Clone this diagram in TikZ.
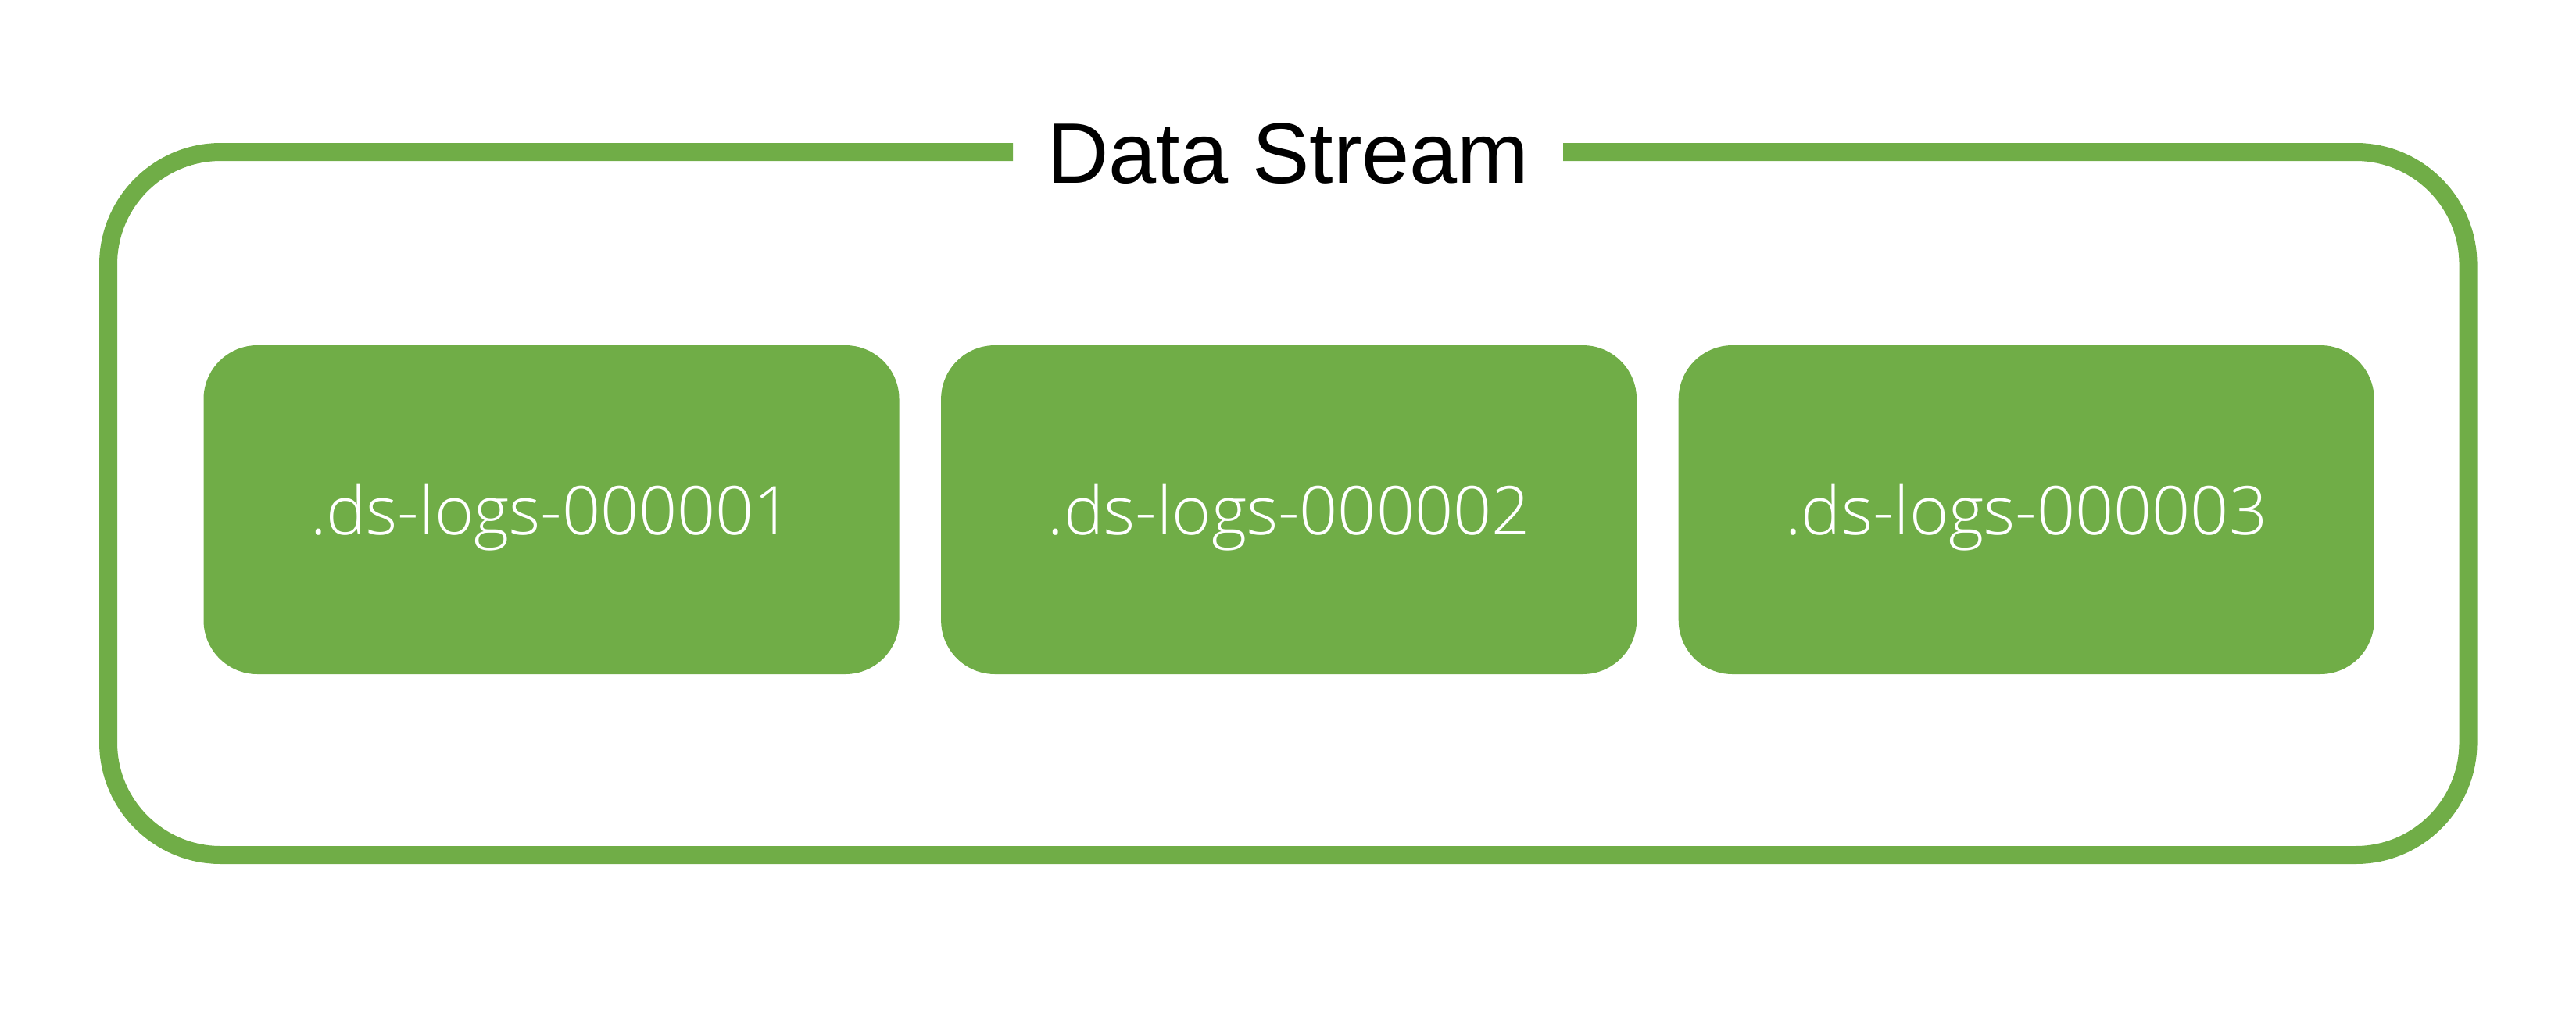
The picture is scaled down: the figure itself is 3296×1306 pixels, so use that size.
\documentclass[tikz,border=0pt]{standalone}
\usepackage{fontspec}
\setmainfont{Liberation Sans}
\newfontfamily\lightfont{Open Sans Light}
\usetikzlibrary{positioning}
\definecolor{dsgreen}{RGB}{112,173,71}
\tikzset{
  logbox/.style={fill=dsgreen,rounded corners=17.25pt,inner sep=0pt,
    minimum width=222.5pt,minimum height=105.25pt,
    text=white,text height=15.75pt,text depth=0pt,
    font=\lightfont\fontsize{21.5}{26}\selectfont},
}
\begin{document}
\begin{tikzpicture}[x=0.25pt,y=-0.25pt,node distance=13pt]
      \useasboundingbox (0,0) rectangle (3296,1306);
      %
      \node[anchor=base,font=\fontsize{27.5}{33}\selectfont] (title) at (1648,234) {Data Stream};
      \coordinate (gapl) at (1296,194.5);
      \coordinate (gapr) at (2000,194.5);
      \draw[dsgreen,line width=5.75pt,rounded corners=36pt] (gapl)
        -- (138.5,194.5)
        -- (138.5,1094.5)
        -- (3158,1094.5)
        -- (3158,194.5)
        -- (gapr);
      %
      \node[logbox] (ds1) at (705.5,652.5) {.ds-logs-000001};
      \node[logbox,right=of ds1] (ds2) {.ds-logs-000002};
      \node[logbox,right=of ds2] (ds3) {.ds-logs-000003};
    \end{tikzpicture}
\end{document}
